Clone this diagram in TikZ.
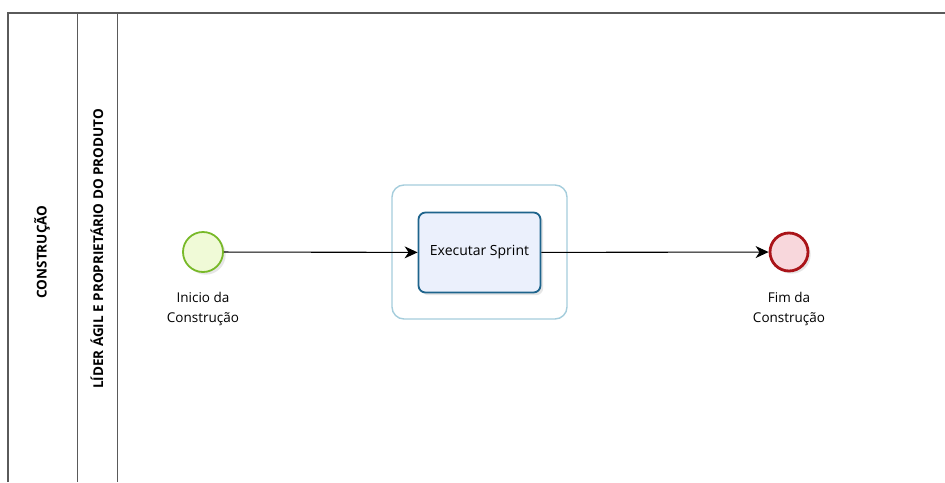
\documentclass[tikz,border=0pt]{standalone}
\usepackage{fontspec}
\setmainfont{Open Sans}
\usetikzlibrary{positioning, arrows.meta, shadows}
\definecolor{startgreen}{RGB}{120,185,40}
\definecolor{startfill}{RGB}{240,250,215}
\definecolor{endred}{RGB}{170,20,25}
\definecolor{endfill}{RGB}{248,215,220}
\definecolor{taskblue}{RGB}{30,100,140}
\definecolor{taskfill}{RGB}{235,240,252}
\definecolor{groupblue}{RGB}{165,205,220}
\definecolor{laneline}{RGB}{90,90,90}
\tikzset{
>={Stealth[length=13pt, width=12pt, inset=4pt]}, % arrow heads
flow/.style={->, line width=1.1pt, black}, % sequence flow
startevent/.style={circle, draw=startgreen, line width=1.8pt, fill=startfill, minimum size=40pt, inner sep=0pt, drop shadow={opacity=0.2}},
endevent/.style={circle, draw=endred, line width=2.8pt, fill=endfill, minimum size=38pt, inner sep=0pt, drop shadow={opacity=0.2}},
task/.style={rectangle, rounded corners=7pt, draw=taskblue, line width=1.8pt, fill=taskfill, minimum width=122pt, minimum height=80pt, font=\fontsize{14}{16}\selectfont, drop shadow={opacity=0.2}},
taskgroup/.style={rectangle, rounded corners=12pt, draw=groupblue, line width=1.4pt, minimum width=175pt, minimum height=134pt},
evlabel/.style={align=center, font=\fontsize{13.5}{20}\selectfont},
lanelabel/.style={rotate=90, font=\bfseries\fontsize{13.5}{15}\selectfont},
}
\begin{document}
\begin{tikzpicture}[x=1pt, y=-1pt]
    \useasboundingbox (0,0) rectangle (945,482);
    % pool and lane
    \draw[laneline, line width=1.3pt] (8,482) -- (8,13) -- (945,13);
    \draw[laneline] (77,13) -- (77,482);
    \draw[laneline] (117,13) -- (117,482);
    \node[lanelabel] (pool) at (42,252) {CONSTRUÇÃO};
    \node[lanelabel] (lane) at (97,249) {LÍDER ÁGIL E PROPRIETÁRIO DO PRODUTO};
    % process
    \node[taskgroup] (grp) at (479.5,252) {};
    \node[startevent] (start) at (203,252) {};
    \node[task] (sprint) at (479.5,252.5) {Executar Sprint};
    \node[endevent] (stop) at (789,252) {};
    \node[evlabel, below=16pt of start] (startlbl) {Inicio da\\Construção};
    \node[evlabel, below=16pt of stop] (stoplbl) {Fim da\\Construção};
    \draw[flow] (start) -- (sprint);
    \draw[flow] (sprint) -- (stop);
\end{tikzpicture}
\end{document}
